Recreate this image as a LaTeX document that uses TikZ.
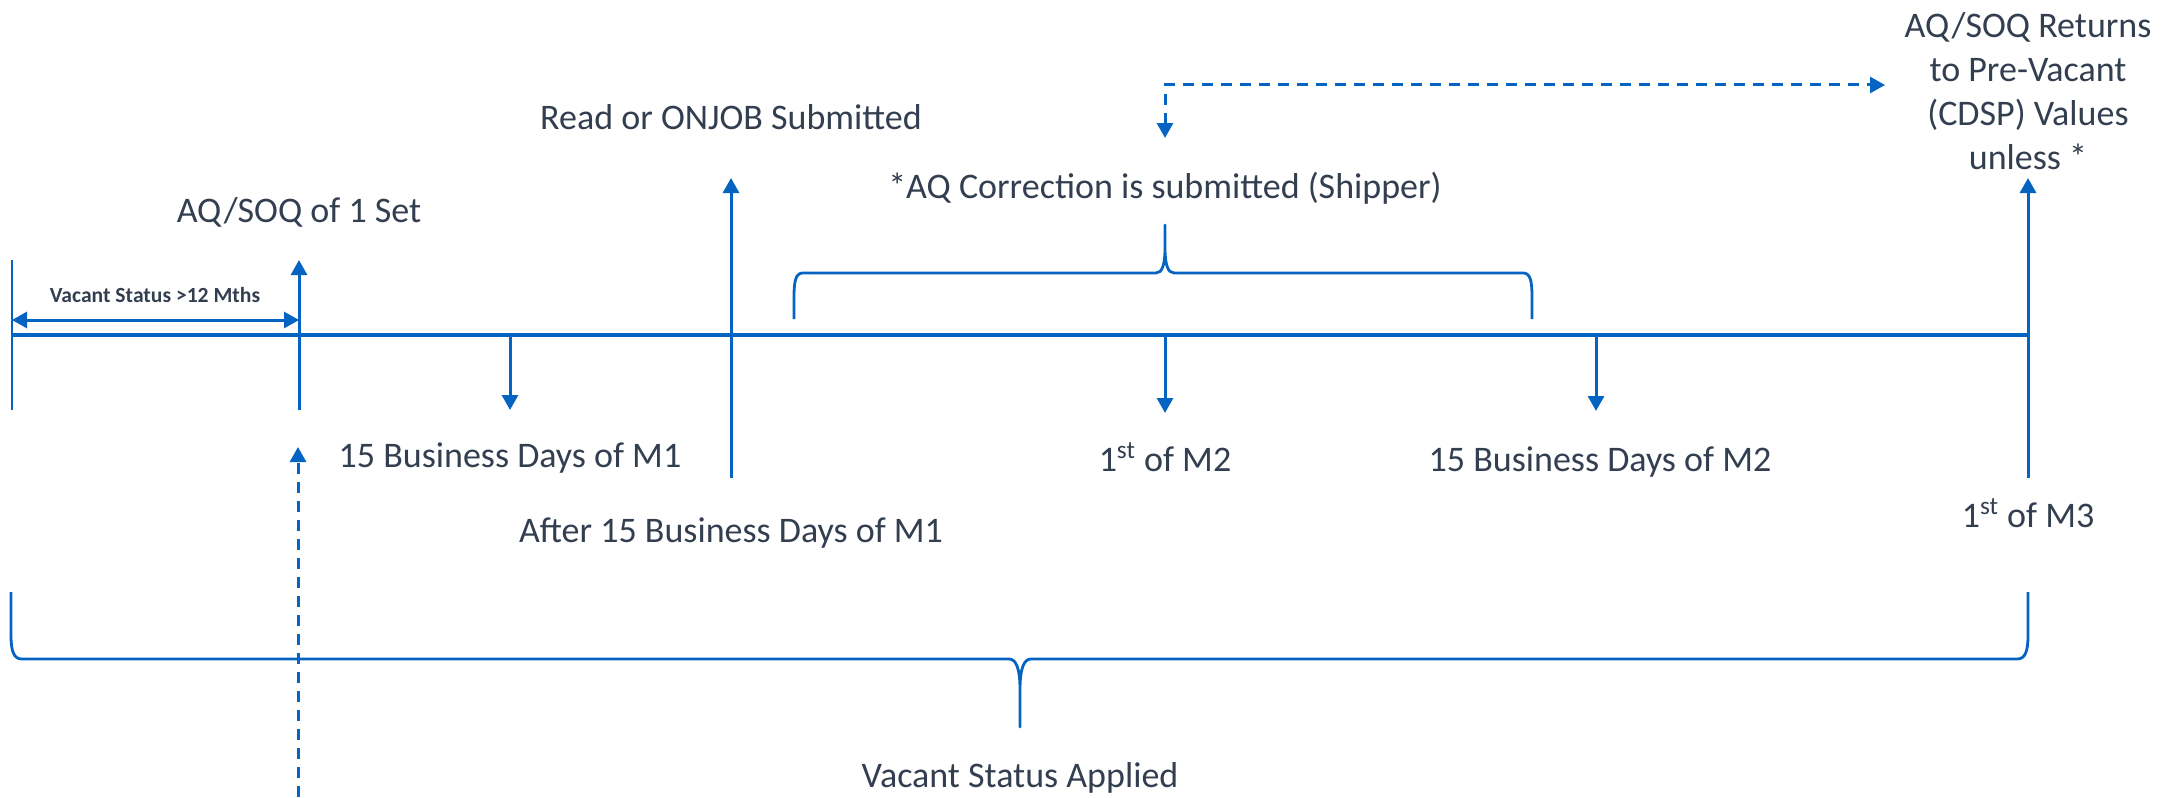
\documentclass[tikz,border=0pt]{standalone}
\usepackage{fontspec}
\setmainfont{Carlito}
\usetikzlibrary{arrows.meta}
\definecolor{lineblue}{RGB}{5,99,193}
\definecolor{textgrey}{RGB}{51,63,80}

\begin{document}
\begin{tikzpicture}[x=0.5pt, y=-0.5pt]
% Node styles ---
\tikzstyle{lbl} = [inner sep = 0pt, align = center, text = textgrey, font = \fontsize{18}{22}\selectfont]
\tikzstyle{sml} = [inner sep = 0pt, text = textgrey, font = \fontsize{10.8}{12}\selectfont\bfseries]
\tikzstyle{axs} = [line width = 1.7pt, draw = lineblue]
\tikzstyle{brc} = [line width = 1.4pt, draw = lineblue, line join = round]
\tikzstyle{con} = [-{Triangle[length = 7.5pt, width = 8pt]}, line width = 1.5pt, draw = lineblue]
\tikzstyle{cor} = [{Triangle[length = 7.5pt, width = 8pt]}-{Triangle[length = 7.5pt, width = 8pt]}, line width = 1.5pt, draw = lineblue]
\tikzstyle{dcon} = [con, dash pattern = on 5.5pt off 4pt]
\tikzstyle{dcor} = [cor, dash pattern = on 5.5pt off 4pt]
% Begin Figure ---
\useasboundingbox (0,0) rectangle (2171,797);
% Nodes
\node at (299,212) [lbl] (set) {AQ/SOQ of 1 Set};
\node at (155,295) [sml] (vac) {Vacant Status >12 Mths};
\node at (510,458) [lbl] (bd1) {15 Business Days of M1};
\node at (731,117) [lbl] (read) {Read or ONJOB Submitted};
\node at (731,533) [lbl] (aft) {After 15 Business Days of M1};
\node at (1165,188) [lbl] (corr) {*AQ Correction is submitted (Shipper)};
\node at (1165,457) [lbl] (m2) {1\textsuperscript{st} of M2};
\node at (1600,462) [lbl] (bd2) {15 Business Days of M2};
\node at (2028,91) [lbl] (ret) {AQ/SOQ Returns\\to Pre-Vacant\\(CDSP) Values\\unless *};
\node at (2028,513) [lbl] (m3) {1\textsuperscript{st} of M3};
\node at (1020,778) [lbl] (app) {Vacant Status Applied};
% Coordinates
\coordinate (t0) at (12,335);
\coordinate (t1) at (2028,335);
\coordinate (l0) at (12,260);
\coordinate (l1) at (12,410);
\coordinate (s0) at (299,410);
\coordinate (s1) at (299,260);
\coordinate (v0) at (12,320);
\coordinate (v1) at (299,320);
\coordinate (a0) at (510,335);
\coordinate (a1) at (510,410);
\coordinate (r0) at (731,478);
\coordinate (r1) at (731,178);
\coordinate (b0) at (1165,335);
\coordinate (b1) at (1165,413);
\coordinate (c0) at (1596,335);
\coordinate (c1) at (1596,411);
\coordinate (e0) at (2028,478);
\coordinate (e1) at (2028,178);
\coordinate (d0) at (1165,138);
\coordinate (d1) at (1885,85);
\coordinate (u0) at (298,797);
\coordinate (u1) at (298,447);
% Paths
\draw [axs] (t0) -- (t1);
\draw [brc] (l0) -- (l1);
\draw [con] (s0) -- (s1);
\draw [cor] (v0) -- (v1);
\draw [con] (a0) -- (a1);
\draw [con] (r0) -- (r1);
\draw [con] (b0) -- (b1);
\draw [con] (c0) -- (c1);
\draw [con] (e0) -- (e1);
\draw [dcor] (d0) |- (d1);
\draw [dcon] (u0) -- (u1);
% braces
\draw [brc] (794,319) -- (794,297) .. controls (794,280) and (796,273) .. (803,273) -- (1156,273)
  .. controls (1162,273) and (1165,265) .. (1165,248) -- (1165,225) -- (1165,248)
  .. controls (1165,265) and (1168,273) .. (1174,273) -- (1523,273)
  .. controls (1530,273) and (1532,280) .. (1532,297) -- (1532,319);
\draw [brc] (11,592) -- (11,635) .. controls (11,652) and (14,659) .. (22,659) -- (1009,659)
  .. controls (1016,659) and (1020,668) .. (1020,690) -- (1020,727) -- (1020,690)
  .. controls (1020,668) and (1024,659) .. (1031,659) -- (2017,659)
  .. controls (2025,659) and (2028,652) .. (2028,635) -- (2028,592);
\end{tikzpicture}
\end{document}
